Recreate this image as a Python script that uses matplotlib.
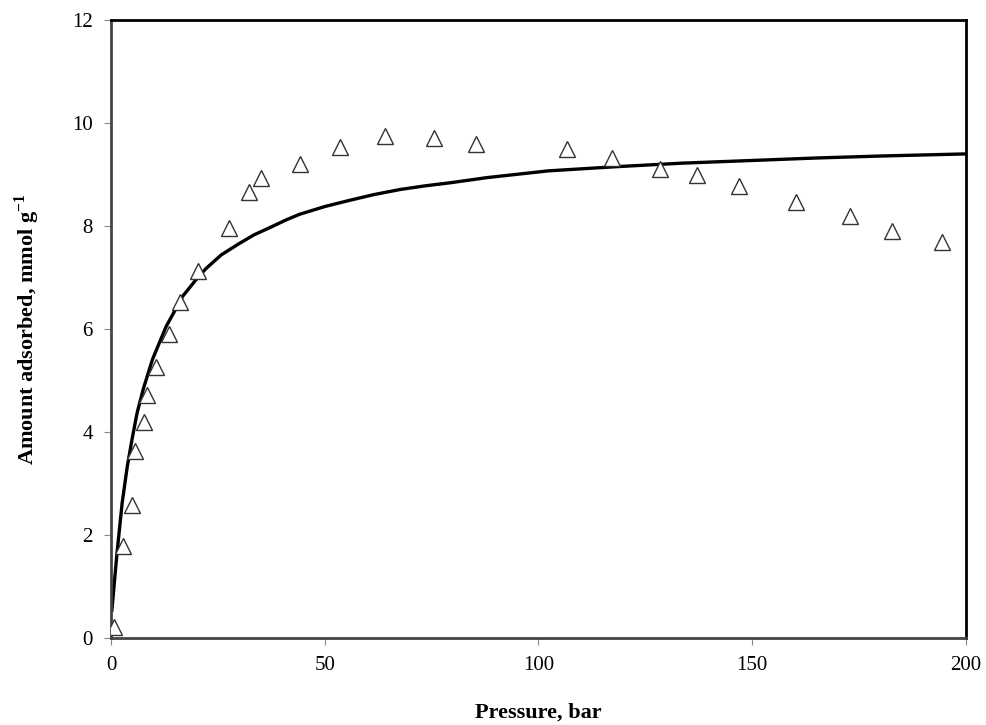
import numpy as np
import matplotlib
matplotlib.use("Agg")
import matplotlib.pyplot as plt

plt.rcParams["font.family"] = "Liberation Serif"
plt.rcParams["mathtext.fontset"] = "custom"
plt.rcParams["mathtext.rm"] = "Liberation Serif"
plt.rcParams["mathtext.bf"] = "Liberation Serif:bold"

# experimental points (bar, mmol/g)
p_exp = np.array([0.7, 2.9, 4.8, 5.6, 7.6, 8.4, 10.6, 13.6, 16.2, 20.4, 27.5, 32.3, 35.2,
                  44.3, 53.6, 64.2, 75.5, 85.5, 106.6, 117.2, 128.5, 137.0, 146.9,
                  160.3, 173.0, 182.8, 194.3])
q_exp = np.array([0.21, 1.78, 2.59, 3.64, 4.19, 4.71, 5.26, 5.91, 6.53, 7.12, 7.97, 8.66, 8.93,
                  9.20, 9.54, 9.75, 9.70, 9.59, 9.49, 9.32, 9.10, 8.99, 8.77,
                  8.46, 8.19, 7.90, 7.69])

# model curve
p_fit = np.array([0.2, 1.4, 2.6, 3.8, 4.9, 6.1, 7.6, 9.7, 12.9, 16.8, 20.5, 22.3, 25.8,
                  30.0, 33.5, 37.7, 41.0, 44.2, 50.1, 55.9, 61.5, 67.7, 73.5, 79.4, 88.0,
                  102.2, 117.8, 133.5, 149.2, 164.8, 180.5, 200.0])
q_fit = np.array([0.54, 1.65, 2.62, 3.33, 3.85, 4.37, 4.85, 5.41, 6.05, 6.64, 7.02, 7.18, 7.44,
                  7.66, 7.83, 7.99, 8.12, 8.23, 8.38, 8.50, 8.61, 8.71, 8.78, 8.84, 8.94,
                  9.07, 9.15, 9.22, 9.27, 9.32, 9.36, 9.40])

fig = plt.figure(figsize=(9.86, 7.25), dpi=100)
ax = fig.add_axes([0.1126, 0.12, 0.867, 0.8524])

ax.plot(p_fit, q_fit, color="black", lw=2.4, zorder=2, solid_joinstyle="round")
ax.plot(p_exp, q_exp, linestyle="none", marker="^", markersize=11,
        markerfacecolor="white", markeredgecolor="#333333", markeredgewidth=1.0, zorder=3)

ax.set_xlim(0, 200)
ax.set_ylim(0, 12)
ax.set_xticks([0, 50, 100, 150, 200])
ax.set_yticks(np.arange(0, 13, 2))
ax.tick_params(direction="out", length=5, width=0.8, color="#888888", labelsize=15, pad=8)

for s in ["top", "right"]:
    ax.spines[s].set_linewidth(2.0)
    ax.spines[s].set_color("black")
for s in ["left", "bottom"]:
    ax.spines[s].set_linewidth(2.0)
    ax.spines[s].set_color("#444444")

ax.set_xlabel("Pressure, bar", fontsize=16, fontweight="bold", labelpad=20)
ax.set_ylabel(r"Amount adsorbed, mmol g$^{\mathbf{-1}}$", fontsize=16, fontweight="bold", labelpad=22)

fig.savefig("out.png", dpi=100)
